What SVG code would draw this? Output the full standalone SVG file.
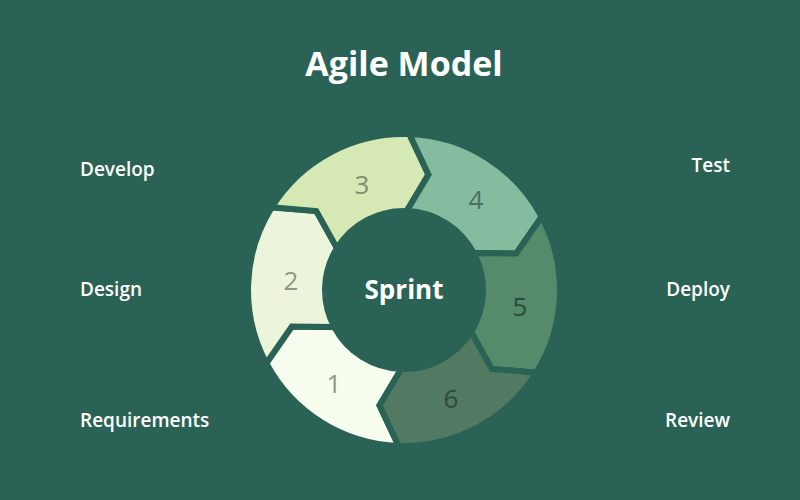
<svg xmlns="http://www.w3.org/2000/svg" width="800" height="500" viewBox="0 0 800 500">
<style>
.seg{stroke:#2a6356;stroke-width:6;stroke-linejoin:miter}
.num{font-family:"Open Sans","DejaVu Sans",sans-serif;font-size:26px;text-anchor:middle;dominant-baseline:central}
.lbl{font-family:"Open Sans","DejaVu Sans",sans-serif;font-size:19px;fill:#ffffff;font-weight:600}
</style>
<rect width="800" height="500" fill="#2a6356"/>
<text x="404" y="76" text-anchor="middle" font-family="'Open Sans','DejaVu Sans',sans-serif" font-size="34" font-weight="700" fill="#ffffff">Agile Model</text>
<g id="seg1"><path class="seg" fill="#f6fcee" d="M398.6,445.9 A156,156 0 0 1 266.3,363.2 L291.8,326.5 L334.3,327.1 A79,79 0 0 0 401.2,369 L379.5,405.4 Z"/><text class="num" x="334" y="383" fill="#8a9a80">1</text></g>
<g id="seg2"><path class="seg" fill="#ecf5dc" d="M266.3,363.2 A156,156 0 0 1 271.7,207.3 L316.3,211 L337,248.1 A79,79 0 0 0 334.3,327.1 L291.8,326.5 Z"/><text class="num" x="291" y="280" fill="#8a9a80">2</text></g>
<g id="seg3"><path class="seg" fill="#d6e8b4" d="M271.7,207.3 A156,156 0 0 1 409.4,134.1 L428.5,174.6 L406.8,211 A79,79 0 0 0 337,248.1 L316.3,211 Z"/><text class="num" x="362" y="184" fill="#7d8f70">3</text></g>
<g id="seg4"><path class="seg" fill="#85bb9e" d="M409.4,134.1 A156,156 0 0 1 541.7,216.8 L516.2,253.5 L473.7,252.9 A79,79 0 0 0 406.8,211 L428.5,174.6 Z"/><text class="num" x="476" y="199" fill="#4f6e5e">4</text></g>
<g id="seg5"><path class="seg" fill="#558a6a" d="M541.7,216.8 A156,156 0 0 1 536.3,372.7 L491.7,369 L471,331.9 A79,79 0 0 0 473.7,252.9 L516.2,253.5 Z"/><text class="num" x="520" y="306" fill="#2f4a3c">5</text></g>
<g id="seg6"><path class="seg" fill="#527a63" d="M536.3,372.7 A156,156 0 0 1 398.6,445.9 L379.5,405.4 L401.2,369 A79,79 0 0 0 471,331.9 L491.7,369 Z"/><text class="num" x="451" y="398" fill="#2f4a3c">6</text></g>
<g id="center"><text x="404" y="299" text-anchor="middle" font-family="'Open Sans','DejaVu Sans',sans-serif" font-size="26" font-weight="700" fill="#ffffff">Sprint</text></g>
<g id="labels">
<text class="lbl" x="80" y="176">Develop</text>
<text class="lbl" x="80" y="296">Design</text>
<text class="lbl" x="80" y="427" font-weight="400">Requirements</text>
<text class="lbl" x="730" y="172" text-anchor="end">Test</text>
<text class="lbl" x="730" y="296" text-anchor="end">Deploy</text>
<text class="lbl" x="730" y="427" text-anchor="end" font-weight="400">Review</text>
</g>
<g id="connectors"/>
</svg>
